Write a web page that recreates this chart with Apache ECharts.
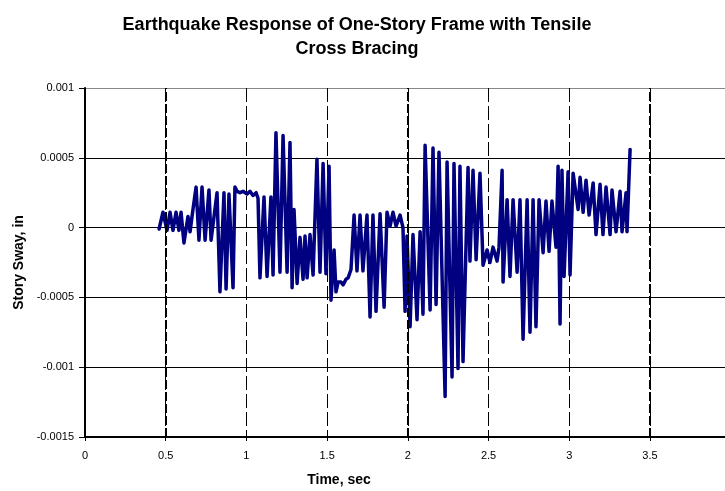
<!DOCTYPE html>
<html>
<head>
<meta charset="utf-8">
<script src="https://cdn.jsdelivr.net/npm/echarts@6/dist/echarts.min.js"></script>
<style>html,body{margin:0;padding:0;background:#fff}#c{width:725px;height:491px}</style>
</head>
<body>
<div id="c"></div>
<script>
const titleText = 'Earthquake Response of One-Story Frame with Tensile\nCross Bracing';
const xName = 'Time, sec';
const yName = 'Story Sway, in';
const majorTimes = [0.5, 2, 3.5];

const time = [
0.459,0.483,0.508,0.527,0.545,0.564,0.582,0.595,0.613,0.638,
0.651,0.663,0.688,0.706,0.725,0.744,0.768,0.781,0.818,0.836,
0.861,0.874,0.892,0.917,0.929,0.942,0.960,0.979,1.004,1.022,
1.041,1.060,1.072,1.084,1.109,1.128,1.152,1.165,1.183,1.208,
1.227,1.252,1.270,1.283,1.295,1.314,1.332,1.351,1.363,1.376,
1.394,1.413,1.437,1.456,1.475,1.493,1.512,1.524,1.543,1.555,
1.568,1.586,1.599,1.617,1.630,1.648,1.667,1.685,1.704,1.722,
1.747,1.766,1.784,1.803,1.828,1.853,1.871,1.890,1.908,1.927,
1.952,1.970,1.983,1.995,2.014,2.032,2.057,2.076,2.094,2.107,
2.138,2.156,2.175,2.193,2.231,2.243,2.274,2.286,2.311,2.323,
2.342,2.373,2.385,2.404,2.423,2.447,2.466,2.491,2.509,2.528,
2.553,2.565,2.584,2.590,2.615,2.633,2.652,2.677,2.695,2.714,
2.739,2.757,2.776,2.794,2.813,2.838,2.856,2.875,2.893,2.918,
2.931,2.943,2.955,2.968,2.993,3.005,3.024,3.055,3.067,3.086,
3.104,3.123,3.148,3.166,3.191,3.209,3.228,3.253,3.265,3.290,
3.315,3.327,3.352,3.358,3.377
];
const sway = [
-0.00001,0.00011,-0.00002,0.00011,-0.00002,0.00011,-0.00002,0.00011,-0.00011,0.00008,
-0.00003,0.00008,0.00029,-0.00009,0.00029,-0.00009,0.00027,-0.00009,0.00025,-0.00046,
0.00025,-0.00044,0.00024,-0.00043,0.00029,0.00026,0.00025,0.00026,0.00024,0.00026,
0.00023,0.00025,0.00021,-0.00036,0.00022,-0.00035,0.00022,-0.00034,0.00068,-0.00032,
0.00066,-0.00032,0.00061,-0.00043,0.00013,-0.00040,-0.00007,-0.00037,-0.00006,-0.00036,
-0.00005,-0.00034,0.00049,-0.00032,0.00046,-0.00033,0.00044,-0.00052,-0.00016,-0.00046,
-0.00039,-0.00039,-0.00041,-0.00037,-0.00036,-0.00030,0.00009,-0.00031,0.00009,-0.00031,
0.00009,-0.00064,0.00009,-0.00060,0.00010,-0.00057,0.00011,0.00001,0.00011,0.00001,
0.00009,0.00000,-0.00060,-0.00006,-0.00071,-0.00005,-0.00066,-0.00003,-0.00062,0.00059,
-0.00059,0.00057,-0.00055,0.00054,-0.00121,0.00047,-0.00107,0.00046,-0.00101,0.00044,
-0.00096,0.00043,-0.00024,0.00041,-0.00023,0.00039,-0.00027,-0.00016,-0.00025,-0.00014,
-0.00024,-0.00014,0.00041,-0.00039,0.00020,-0.00035,0.00020,-0.00032,0.00020,-0.00080,
0.00020,-0.00075,0.00020,-0.00071,0.00020,-0.00018,0.00019,-0.00017,0.00019,-0.00014,
0.00044,-0.00069,0.00041,-0.00035,0.00040,-0.00034,0.00039,0.00013,0.00036,0.00011,
0.00034,0.00009,0.00032,-0.00005,0.00031,-0.00005,0.00029,-0.00005,0.00027,-0.00003,
0.00026,-0.00003,0.00025,-0.00003,0.00056
];

const FONT = 'Liberation Sans, Arial, sans-serif';
const chart = echarts.init(document.getElementById('c'), null, {renderer: 'canvas'});
chart.setOption({
  animation: false,
  backgroundColor: '#fff',
  title: [
    {text: titleText, left: 352, top: 8, textAlign: 'center',
     textStyle: {fontFamily: FONT, fontWeight: 'bold', fontSize: 18, lineHeight: 24, color: '#000'}},
    {text: xName, left: 334, top: 468, textAlign: 'center',
     textStyle: {fontFamily: FONT, fontWeight: 'bold', fontSize: 14, color: '#000'}}
  ],
  grid: {left: 85, top: 88, right: 0, height: 349, containLabel: false},
  xAxis: {
    type: 'value', min: 0, max: 3.965, interval: 0.5,
    axisLine: {show: true, onZero: false, lineStyle: {color: '#000', width: 2}},
    axisTick: {show: true, length: 4, lineStyle: {color: '#000', width: 1}},
    axisLabel: {fontFamily: FONT, fontSize: 11, color: '#000', margin: 13, showMaxLabel: false,
      formatter: v => String(+v.toFixed(2))},
    splitLine: {show: true, lineStyle: {color: '#000', width: 1, type: [14, 4]}}
  },
  yAxis: {
    type: 'value', min: -0.0015, max: 0.001, interval: 0.0005,
    name: yName, nameLocation: 'middle', nameGap: 59, nameRotate: 90,
    nameTextStyle: {fontFamily: FONT, fontWeight: 'bold', fontSize: 14, color: '#000'},
    axisLine: {show: true, onZero: false, lineStyle: {color: '#000', width: 2}},
    axisTick: {show: true, length: 6, lineStyle: {color: '#000', width: 1}},
    axisLabel: {fontFamily: FONT, fontSize: 11, color: '#000', margin: 11,
      formatter: v => String(+v.toFixed(4))},
    splitLine: {show: true, lineStyle: {color: ['#000','#000','#000','#000','#000','#888'], width: 1}}
  },
  series: [{
    type: 'line',
    data: time.map((t, i) => [t, sway[i]]),
    showSymbol: false,
    lineStyle: {color: '#000080', width: 3.5, join: 'round', cap: 'round'},
    z: 3,
    markLine: {
      silent: true, symbol: 'none', label: {show: false},
      lineStyle: {color: '#000', width: 2, type: [9, 3]},
      data: majorTimes.map(t => ({xAxis: t}))
    }
  }]
});
</script>
</body>
</html>
